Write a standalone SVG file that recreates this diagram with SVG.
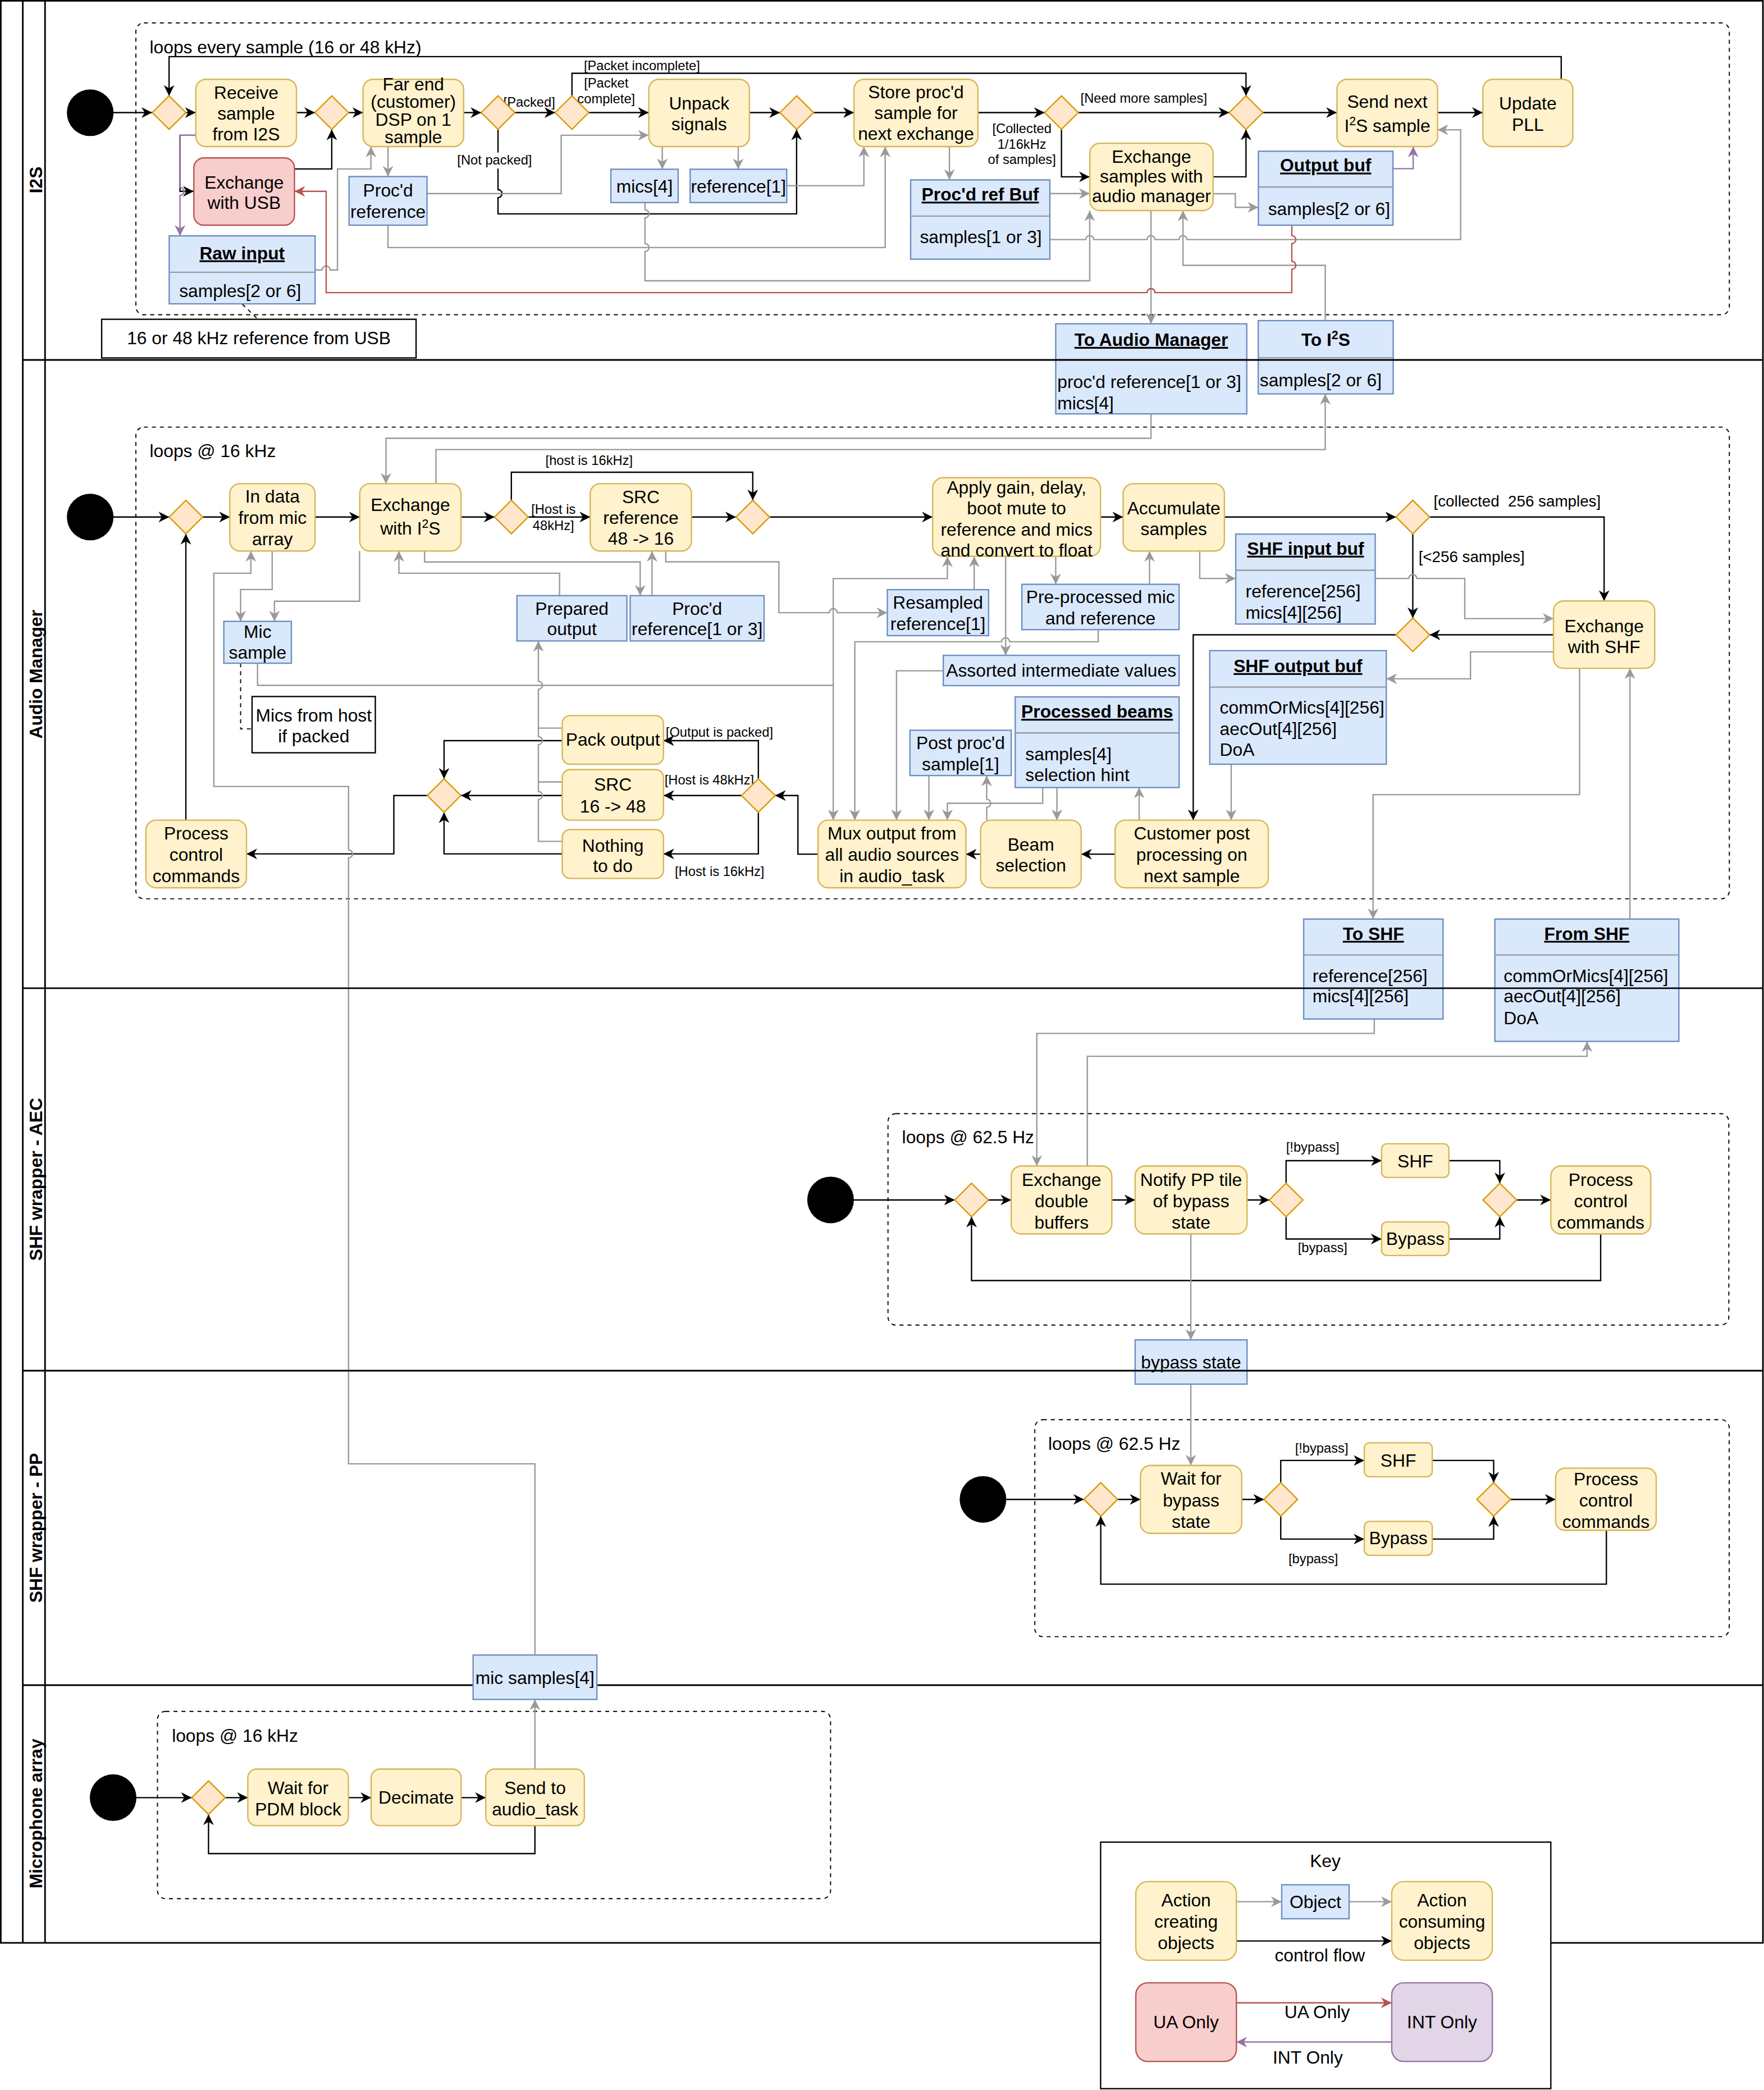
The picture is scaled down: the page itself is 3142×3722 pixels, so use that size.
<svg xmlns="http://www.w3.org/2000/svg" width="3142" height="3722" viewBox="0 0 3142 3722">
<defs>
<style>
text{font-family:'Liberation Sans',Arial,Helvetica,sans-serif;font-size:13.4px;fill:#000}
.c{text-anchor:middle}
.ul{font-weight:bold;text-decoration:underline}
.bo{font-weight:bold}
.l10{font-size:10px}
.l11{font-size:11.7px}
.lane{font-weight:bold;font-size:13.4px;text-anchor:middle}
.act{fill:#fff2cc;stroke:#d6b656;stroke-width:1}
.ua{fill:#f8cecc;stroke:#b85450;stroke-width:1}
.int{fill:#e1d5e7;stroke:#9673a6;stroke-width:1}
.obj{fill:#dae8fc;stroke:#6c8ebf;stroke-width:1}
.dv{stroke:#9a9a9a;stroke-width:1}
.dec{fill:#ffe6cc;stroke:#d79b00;stroke-width:1}
.note{fill:#fff;stroke:#000;stroke-width:1}
.loop{fill:none;stroke:#000;stroke-width:0.8;stroke-dasharray:3 3}
.pool{fill:none;stroke:#000;stroke-width:1.2}
.k{fill:none;stroke:#000;stroke-width:1;marker-end:url(#mk)}
.g{fill:none;stroke:#999;stroke-width:1;marker-end:url(#mg)}
.r{fill:none;stroke:#b85450;stroke-width:1;marker-end:url(#mr)}
.p{fill:none;stroke:#9673a6;stroke-width:1;marker-end:url(#mp)}
.gl{fill:none;stroke:#999;stroke-width:1}
.dash{fill:none;stroke:#000;stroke-width:0.8;stroke-dasharray:3 3}
</style>
<marker id="mk" viewBox="0 0 10 10" refX="10" refY="5" markerWidth="8" markerHeight="8" markerUnits="userSpaceOnUse" orient="auto"><path d="M0,0L10,5L0,10L3,5z" fill="#000"/></marker>
<marker id="mg" viewBox="0 0 10 10" refX="10" refY="5" markerWidth="8" markerHeight="8" markerUnits="userSpaceOnUse" orient="auto"><path d="M0,0L10,5L0,10L3,5z" fill="#999"/></marker>
<marker id="mr" viewBox="0 0 10 10" refX="10" refY="5" markerWidth="8" markerHeight="8" markerUnits="userSpaceOnUse" orient="auto"><path d="M0,0L10,5L0,10L3,5z" fill="#b85450"/></marker>
<marker id="mp" viewBox="0 0 10 10" refX="10" refY="5" markerWidth="8" markerHeight="8" markerUnits="userSpaceOnUse" orient="auto"><path d="M0,0L10,5L0,10L3,5z" fill="#9673a6"/></marker>
</defs>
<rect width="3142" height="3722" fill="#fff"/>
<g transform="scale(2.3731)">

<g id="pool">
<rect class="pool" x="0.6" y="0.6" width="1322.6" height="1457.4"/>
<line class="pool" x1="17.1" y1="0" x2="17.1" y2="1458"/>
<line class="pool" x1="33.8" y1="0" x2="33.8" y2="1458"/>
<line class="pool" x1="17.1" y1="1264.6" x2="1323.2" y2="1264.6"/>
<text class="lane" transform="rotate(-90 31.5 135)" x="31.5" y="135">I2S</text>
<text class="lane" transform="rotate(-90 31.5 506)" x="31.5" y="506">Audio Manager</text>
<text class="lane" transform="rotate(-90 31.5 885)" x="31.5" y="885">SHF wrapper - AEC</text>
<text class="lane" transform="rotate(-90 31.5 1146.6)" x="31.5" y="1146.6">SHF wrapper - PP</text>
<text class="lane" transform="rotate(-90 31.5 1361)" x="31.5" y="1361">Microphone array</text>
</g>

<g id="loops">
<rect class="loop" x="102" y="17.2" width="1196" height="219" rx="6"/>
<text x="112.3" y="40">loops every sample (16 or 48 kHz)</text>
<rect class="loop" x="102" y="320.5" width="1196" height="354" rx="6"/>
<text x="112.3" y="343">loops @ 16 kHz</text>
<rect class="loop" x="666.5" y="835.7" width="631.1" height="158.7" rx="6"/>
<text x="677" y="857.8">loops @ 62.5 Hz</text>
<rect class="loop" x="776.7" y="1065.4" width="521.2" height="162.8" rx="6"/>
<text x="786.7" y="1088">loops @ 62.5 Hz</text>
<rect class="loop" x="118.2" y="1284.3" width="505.2" height="140.5" rx="6"/>
<text x="129" y="1307.3">loops @ 16 kHz</text>
</g>

<g id="key-frame">
<rect class="note" x="826.1" y="1382.4" width="337.9" height="185"/>
<text class="c" x="994.7" y="1401">Key</text>
</g>

<g id="connectors">
<!-- I2S control -->
<path class="k" d="M85.1,84.5H114.2"/>
<path class="k" d="M139.5,84.5H146.9"/>
<path class="k" d="M222.6,84.5H236.4"/>
<path class="k" d="M261.6,84.5H272.5"/>
<path class="k" d="M348.1,84.5H361.2"/>
<path class="k" d="M386.4,84.5H416.7"/>
<path class="k" d="M373.8,97.1V142.3A3,3 0 0 1 373.8,148.3V160.5H597.9V97.2"/>
<path class="k" d="M441.9,84.5H486.9"/>
<path class="k" d="M429.3,71.9V55H935.2V71.9"/>
<path class="k" d="M562.5,84.5H585.4"/>
<path class="k" d="M610.6,84.5H640.9"/>
<path class="k" d="M734,84.5H784.1"/>
<path class="k" d="M809.3,84.5H922.6"/>
<path class="k" d="M796.7,97.1V132.7H817.9"/>
<path class="k" d="M910.5,132.7H935.2V97.2"/>
<path class="k" d="M947.8,84.5H1003.4"/>
<path class="k" d="M1079,84.5H1112.9"/>
<path class="k" d="M1171.8,59.5V42.5H126.9V71.9"/>
<path class="k" d="M221,126.8H249V97.2"/>
<path class="k" d="M146.9,101.5H135.1V143.6H145.4"/>
<!-- I2S objects -->
<path class="g" d="M291.2,110V132.5"/>
<path class="g" d="M236.5,202.6H241.8A3,3 0 0 1 247.8,202.6H253.3V126.8H278.4V110"/>
<path class="g" d="M320.5,145.3H421.2V101.5H486.9"/>
<path class="g" d="M291.2,169V185.8H664.4V110"/>
<path class="g" d="M497.1,110V127"/>
<path class="g" d="M554.1,110V127"/>
<path class="g" d="M590.5,139.3H648.4V110"/>
<path class="g" d="M484.1,152V157.5A3,3 0 0 1 484.1,163.5V182.8A3,3 0 0 1 484.1,188.8V210.7H817.9V158"/>
<path class="g" d="M712.6,110V135"/>
<path class="g" d="M788,145.3H817.9"/>
<path class="g" d="M788,179.8H814.9A3,3 0 0 1 820.9,179.8H860.9A3,3 0 0 1 866.9,179.8H884.9A3,3 0 0 1 890.9,179.8H1096.3V97.4H1079"/>
<path class="g" d="M863.9,158V243"/>
<path class="g" d="M910.5,145.4H927.2V155.6H944.5"/>
<path class="g" d="M994.7,240.6V199.1H887.9V158"/>
<path class="p" d="M1045.5,126.6H1060.7V110"/>
<path class="p" d="M146.9,101.5H135.1V140.6A3,3 0 0 1 135.1,146.6V177"/>
<path class="r" d="M969.6,169V176.8A3,3 0 0 1 969.6,182.8V196.1A3,3 0 0 1 969.6,202.1V219.6H866.9A3,3 0 0 0 860.9,219.6H244.8V143.6H221"/>
<path class="dash" d="M181.8,228.2L193.6,239.6"/>
<text class="l10" x="377.8" y="80">[Packed]</text>
<text class="l10 c" x="455" y="65.9">[Packet</text>
<text class="l10 c" x="455" y="77.7">complete]</text>
<text class="l10" x="438.2" y="52.5">[Packet incomplete]</text>
<rect x="343" y="114.5" width="56.5" height="12" fill="#fff"/>
<text class="l10 c" x="371.2" y="123.5">[Not packed]</text>
<text class="l10" x="811" y="77">[Need more samples]</text>
<text class="l10 c" x="767" y="99.8">[Collected</text>
<text class="l10 c" x="767" y="111.5">1/16kHz</text>
<text class="l10 c" x="767" y="123.1">of samples]</text>

<!-- Audio manager control -->
<path class="k" d="M85.1,388H127"/>
<path class="k" d="M152.1,388H172.5"/>
<path class="k" d="M236.5,388H270"/>
<path class="k" d="M346,388H371.2"/>
<path class="k" d="M396.4,388H443"/>
<path class="k" d="M383.8,375.4V354.4H565V375.4"/>
<path class="k" d="M519,388H552.4"/>
<path class="k" d="M577.6,388H700"/>
<path class="k" d="M826,388H843"/>
<path class="k" d="M919,388H1047.8"/>
<path class="k" d="M1073,388H1204V451"/>
<path class="k" d="M1060.4,400.6V463.8"/>
<path class="k" d="M1166,476.4H1073"/>
<path class="k" d="M1047.8,476.4H895.6V615.5"/>
<path class="k" d="M837,641H811.5"/>
<path class="k" d="M736,641H725"/>
<path class="k" d="M614,641H598.9V597H581.8"/>
<path class="k" d="M569.2,584.4V555.8H498"/>
<path class="k" d="M556.6,597H498"/>
<path class="k" d="M569.2,609.6V640.8H498"/>
<path class="k" d="M422,555.8H333.3V584.4"/>
<path class="k" d="M422,597H345.9"/>
<path class="k" d="M422,640.8H333.3V609.6"/>
<path class="k" d="M320.7,597H295.6V640.8H185"/>
<path class="k" d="M139.5,615.5V400.6"/>
<!-- Audio manager objects -->
<path class="g" d="M863.9,310.6V328.9H289.7V363"/>
<path class="g" d="M327.2,363V337.4H994.7V295.6"/>
<path class="g" d="M318.7,413.5V421.7H480.5V447"/>
<path class="g" d="M489.4,447V413.5"/>
<path class="g" d="M499.7,413.5V421.6H584.6V459.8H622.4A3,3 0 0 1 628.4,459.8H666"/>
<path class="g" d="M420,447V430.2H299.4V413.5"/>
<path class="g" d="M204.3,413.5V442.4H180.6V466.3"/>
<path class="g" d="M269.9,413.5V451.2H206V466.3"/>
<path class="g" d="M401.5,1242V1098.5H261.6V643.8A3,3 0 0 0 261.6,637.8V590.2H160.5V430.2H188.3V413.5"/>
<path class="g" d="M193.3,497.7V514.3H625.4V434.2H711.1V417.6"/>
<path class="g" d="M625.4,514.3V615.5"/>
<path class="g" d="M731.2,442.5V417.6"/>
<path class="g" d="M792.4,417.6V438.5"/>
<path class="g" d="M862.8,438.5V413.5"/>
<path class="g" d="M900.5,413.5V434.1H927.5"/>
<path class="g" d="M1032.2,434.1H1057.4A3,3 0 0 1 1063.4,434.1H1099.4V464.2H1166"/>
<path class="g" d="M1166,489.2H1103.7V509.4H1040.5"/>
<path class="g" d="M924.1,573.5V615.5"/>
<path class="g" d="M1185.6,501.5V596.3H1030.6V689.7"/>
<path class="g" d="M1223.4,689.7V501.5"/>
<path class="g" d="M855,615.5V591"/>
<path class="g" d="M793.3,591V615.5"/>
<path class="g" d="M782.6,591V602.8H711.1V615.5"/>
<path class="g" d="M740.6,615.5V605.8A3,3 0 0 0 740.6,599.8V582"/>
<path class="g" d="M697.2,582V615.5"/>
<path class="g" d="M824.3,472.5V481.6H757.8A3,3 0 0 0 751.8,481.6H641.6V615.5"/>
<path class="g" d="M754.8,417.6V491.8"/>
<path class="g" d="M708,503.4H672.9V615.5"/>
<path class="g" d="M422,631.4H404.1V600A3,3 0 0 0 404.1,594V558.8A3,3 0 0 0 404.1,552.8V517.3A3,3 0 0 0 404.1,511.3V481"/>
<path class="gl" d="M422,586.8H404.1M422,546.4H404.1"/>
<path class="dash" d="M180.6,497.7V547H189.2"/>
<text class="l10 c" x="415.4" y="385.4">[Host is</text>
<text class="l10 c" x="415.4" y="397.6">48kHz]</text>
<text class="l10" x="409.4" y="349">[host is 16kHz]</text>
<text class="l11" x="1076" y="380">[collected&#160; 256 samples]</text>
<text class="l11" x="1064.7" y="421.9">[&lt;256 samples]</text>
<text class="l10" x="499.7" y="552.7">[Output is packed]</text>
<text class="l10" x="498.8" y="588.5">[Host is 48kHz]</text>
<text class="l10" x="506.5" y="657.3">[Host is 16kHz]</text>

<!-- AEC -->
<path class="k" d="M640.9,900.5H716.6"/>
<path class="k" d="M741.8,900.5H759"/>
<path class="k" d="M834.5,900.5H852"/>
<path class="k" d="M936,900.5H952.7"/>
<path class="k" d="M965.3,887.9V871H1037"/>
<path class="k" d="M965.3,913.1V929.8H1037"/>
<path class="k" d="M1087.5,871H1125.7V887.9"/>
<path class="k" d="M1087.5,929.8H1125.7V913.1"/>
<path class="k" d="M1138.3,900.5H1164"/>
<path class="k" d="M1201.4,926V961H729.2V913.1"/>
<path class="g" d="M1031.5,764.7V775.5H778.2V875"/>
<path class="g" d="M816.1,875V792.7H1191.2V781.5"/>
<path class="g" d="M893.8,926V1005.5"/>
<text class="l10" x="965.3" y="864.3">[!bypass]</text>
<text class="l10" x="974.1" y="939.5">[bypass]</text>

<!-- PP -->
<path class="k" d="M755.3,1125.2H813.6"/>
<path class="k" d="M838.8,1125.2H856"/>
<path class="k" d="M932,1125.2H948.7"/>
<path class="k" d="M961.3,1112.6V1096H1024"/>
<path class="k" d="M961.3,1137.8V1155H1024"/>
<path class="k" d="M1075,1096H1121.1V1112.6"/>
<path class="k" d="M1075,1155H1121.1V1137.8"/>
<path class="k" d="M1133.7,1125.2H1167.6"/>
<path class="k" d="M1205.7,1148.4V1188.8H826.2V1137.8"/>
<path class="g" d="M893.8,1038.7V1099.7"/>
<text class="l10" x="972" y="1090.2">[!bypass]</text>
<text class="l10" x="967.1" y="1173">[bypass]</text>

<!-- Mic -->
<path class="k" d="M102.4,1349H143.9"/>
<path class="k" d="M169.1,1349H186"/>
<path class="k" d="M261.5,1349H278.6"/>
<path class="k" d="M346.1,1349H364.6"/>
<path class="k" d="M401.5,1370V1391H156.5V1361.6"/>
<path class="g" d="M401.5,1327.6V1275.3"/>

<!-- Key -->
<path class="g" d="M928,1427.1H962"/>
<path class="g" d="M1012.6,1427.1H1044.6"/>
<path class="k" d="M928,1456.6H1044.6"/>
<path class="r" d="M928,1503H1044.6"/>
<path class="p" d="M1044.6,1532.4H928"/>
<text class="c" x="990.6" y="1472">control flow</text>
<text class="c" x="988.6" y="1514.6">UA Only</text>
<text class="c" x="981.6" y="1548.6">INT Only</text>
</g>

<!-- I2S nodes -->
<g id="i2s-start"><circle cx="67.7" cy="84.6" r="17.5"/></g>
<g id="i2s-d1"><polygon class="dec" points="114.3,84.5 126.9,71.9 139.5,84.5 126.9,97.1"/></g>
<g id="i2s-d2"><polygon class="dec" points="236.4,84.5 249,71.9 261.6,84.5 249,97.1"/></g>
<g id="i2s-d3"><polygon class="dec" points="361.2,84.5 373.8,71.9 386.4,84.5 373.8,97.1"/></g>
<g id="i2s-d4"><polygon class="dec" points="416.7,84.5 429.3,71.9 441.9,84.5 429.3,97.1"/></g>
<g id="i2s-d5"><polygon class="dec" points="585.4,84.5 598,71.9 610.6,84.5 598,97.1"/></g>
<g id="i2s-d6"><polygon class="dec" points="784.1,84.5 796.7,71.9 809.3,84.5 796.7,97.1"/></g>
<g id="i2s-d7"><polygon class="dec" points="922.6,84.5 935.2,71.9 947.8,84.5 935.2,97.1"/></g>
<g id="receive"><rect class="act" x="147" y="59.5" width="75.5" height="50.5" rx="7.5"/><text class="c" x="184.75" y="74.3">Receive</text><text class="c" x="184.75" y="89.8">sample</text><text class="c" x="184.75" y="105.3">from I2S</text></g>
<g id="far-end"><rect class="act" x="272.5" y="59.5" width="75.5" height="50.5" rx="7.5"/><g style="font-size:11.6px"><text class="c" x="310.25" y="68">Far end</text><text class="c" x="310.25" y="81.1">(customer)</text><text class="c" x="310.25" y="94.2">DSP on 1</text><text class="c" x="310.25" y="107.3">sample</text></g></g>
<g id="unpack"><rect class="act" x="487" y="59.5" width="75.5" height="50.5" rx="7.5"/><text class="c" x="524.75" y="82.2">Unpack</text><text class="c" x="524.75" y="97.7">signals</text></g>
<g id="store"><rect class="act" x="641" y="59.5" width="93" height="50.5" rx="7.5"/><text class="c" x="687.5" y="73.6">Store proc'd</text><text class="c" x="687.5" y="89.2">sample for</text><text class="c" x="687.5" y="104.8">next exchange</text></g>
<g id="exchange-am"><rect class="act" x="818" y="107.5" width="92.5" height="50.5" rx="7.5"/><g style="font-size:12.8px"><text class="c" x="864.25" y="122.1">Exchange</text><text class="c" x="864.25" y="136.9">samples with</text><text class="c" x="864.25" y="151.7">audio manager</text></g></g>
<g id="send-next"><rect class="act" x="1003.5" y="59.5" width="75.5" height="50.5" rx="7.5"/><text class="c" x="1041.25" y="80.7">Send next</text><text class="c" x="1041.25" y="99">I<tspan dy="-5" style="font-size:9px">2</tspan><tspan dy="5">S sample</tspan></text></g>
<g id="update-pll"><rect class="act" x="1113" y="59.5" width="67.5" height="50.5" rx="7.5"/><text class="c" x="1146.75" y="82.1">Update</text><text class="c" x="1146.75" y="98">PLL</text></g>
<g id="exchange-usb"><rect class="ua" x="145.5" y="118.5" width="75.5" height="50.5" rx="7.5"/><text class="c" x="183.25" y="141.4">Exchange</text><text class="c" x="183.25" y="156.9">with USB</text></g>
<g id="procd-reference"><rect class="obj" x="262" y="132.5" width="58.5" height="36.5"/><text class="c" x="291.25" y="147.6">Proc'd</text><text class="c" x="291.25" y="163.4">reference</text></g>
<g id="mics4"><rect class="obj" x="458.5" y="127" width="50.5" height="25"/><text class="c" x="483.75" y="144.5">mics[4]</text></g>
<g id="reference1"><rect class="obj" x="518" y="127" width="72.5" height="25"/><text class="c" x="554.25" y="144.5">reference[1]</text></g>
<g id="procd-ref-buf"><rect class="obj" x="683.5" y="135" width="104.5" height="59.5"/><line class="dv" x1="683.5" y1="162.2" x2="788" y2="162.2"/><text class="c ul" x="735.75" y="150.5">Proc'd ref Buf</text><text x="690.4" y="182.3">samples[1 or 3]</text></g>
<g id="output-buf"><rect class="obj" x="944.5" y="113.5" width="101" height="55.5"/><line class="dv" x1="944.5" y1="140.3" x2="1045.5" y2="140.3"/><text class="c ul" x="995" y="128.7">Output buf</text><text x="951.8" y="161.4">samples[2 or 6]</text></g>
<g id="raw-input"><rect class="obj" x="127" y="177" width="109.5" height="51"/><line class="dv" x1="127" y1="204.3" x2="236.5" y2="204.3"/><text class="c ul" x="181.75" y="194.5">Raw input</text><text x="134.5" y="223">samples[2 or 6]</text></g>
<g id="usb-note"><rect class="note" x="76.3" y="239.6" width="236" height="29"/><text class="c" x="194.3" y="258.5">16 or 48 kHz reference from USB</text></g>
<g id="to-audio-manager"><rect class="obj" x="792.4" y="243" width="143.4" height="67.6"/><line class="dv" x1="792.4" y1="270" x2="935.8" y2="270"/><text class="c ul" x="864.1" y="259.5">To Audio Manager</text><text x="793.6" y="291">proc'd reference[1 or 3]</text><text x="793.6" y="307">mics[4]</text></g>
<g id="to-i2s"><rect class="obj" x="944.4" y="240.6" width="101.3" height="55"/><line class="dv" x1="944.4" y1="268.5" x2="1045.7" y2="268.5"/><text class="c bo" x="995" y="259.5">To I<tspan dy="-5" style="font-size:9px">2</tspan><tspan dy="5">S</tspan></text><text x="945.5" y="290">samples[2 or 6]</text></g>

<!-- Audio manager nodes -->
<g id="am-start"><circle cx="67.7" cy="388" r="17.5"/></g>
<g id="am-d1"><polygon class="dec" points="127,388 139.5,375.4 152.1,388 139.5,400.6"/></g>
<g id="am-d2"><polygon class="dec" points="371.2,388 383.8,375.4 396.4,388 383.8,400.6"/></g>
<g id="am-d3"><polygon class="dec" points="552.4,388 565,375.4 577.6,388 565,400.6"/></g>
<g id="am-d4"><polygon class="dec" points="1047.8,388 1060.4,375.4 1073,388 1060.4,400.6"/></g>
<g id="am-d5"><polygon class="dec" points="1047.8,476.4 1060.4,463.8 1073,476.4 1060.4,489"/></g>
<g id="am-d6"><polygon class="dec" points="556.6,597 569.2,584.4 581.8,597 569.2,609.6"/></g>
<g id="am-d7"><polygon class="dec" points="320.7,597 333.3,584.4 345.9,597 333.3,609.6"/></g>
<g id="in-data"><rect class="act" x="172.5" y="363" width="64" height="50.5" rx="7.5"/><text class="c" x="204.5" y="377">In data</text><text class="c" x="204.5" y="393">from mic</text><text class="c" x="204.5" y="409">array</text></g>
<g id="exchange-i2s"><rect class="act" x="270" y="363" width="76" height="50.5" rx="7.5"/><text class="c" x="308" y="383.5">Exchange</text><text class="c" x="308" y="401">with I<tspan dy="-5" style="font-size:9px">2</tspan><tspan dy="5">S</tspan></text></g>
<g id="src-ref"><rect class="act" x="443" y="363" width="76" height="50.5" rx="7.5"/><text class="c" x="481" y="377.4">SRC</text><text class="c" x="481" y="393.2">reference</text><text class="c" x="481" y="408.8">48 -&gt; 16</text></g>
<g id="apply-gain"><rect class="act" x="700" y="358.5" width="126" height="59" rx="8"/><text class="c" x="763" y="370.2">Apply gain, delay,</text><text class="c" x="763" y="386.1">boot mute to</text><text class="c" x="763" y="402">reference and mics</text><text class="c" x="763" y="417.6">and convert to float</text></g>
<g id="accumulate"><rect class="act" x="843" y="363" width="76" height="50.5" rx="7.5"/><text class="c" x="881" y="385.8">Accumulate</text><text class="c" x="881" y="401.6">samples</text></g>
<g id="exchange-shf"><rect class="act" x="1166" y="451" width="76" height="50.5" rx="7.5"/><text class="c" x="1204" y="474.6">Exchange</text><text class="c" x="1204" y="490.2">with SHF</text></g>
<g id="pack-output"><rect class="act" x="422" y="537" width="76" height="36.5" rx="6"/><text class="c" x="460" y="559.7">Pack output</text></g>
<g id="src-16-48"><rect class="act" x="422" y="577.5" width="76" height="38" rx="6"/><text class="c" x="460" y="593.4">SRC</text><text class="c" x="460" y="609.6">16 -&gt; 48</text></g>
<g id="nothing"><rect class="act" x="422" y="622.5" width="76" height="36.7" rx="6"/><text class="c" x="460" y="639.1">Nothing</text><text class="c" x="460" y="654.5">to do</text></g>
<g id="mux"><rect class="act" x="614" y="615.5" width="111" height="50.7" rx="7.5"/><text class="c" x="669.5" y="629.9">Mux output from</text><text class="c" x="669.5" y="645.8">all audio sources</text><text class="c" x="669.5" y="661.8">in audio_task</text></g>
<g id="beam-selection"><rect class="act" x="736" y="615.5" width="75.5" height="50.7" rx="7.5"/><text class="c" x="773.75" y="638.4">Beam</text><text class="c" x="773.75" y="654.2">selection</text></g>
<g id="customer-post"><rect class="act" x="837" y="615.5" width="115" height="50.7" rx="7.5"/><text class="c" x="894.5" y="629.9">Customer post</text><text class="c" x="894.5" y="645.8">processing on</text><text class="c" x="894.5" y="661.8">next sample</text></g>
<g id="am-process-control"><rect class="act" x="109.5" y="615.5" width="75.5" height="50.7" rx="7.5"/><text class="c" x="147.25" y="630">Process</text><text class="c" x="147.25" y="645.8">control</text><text class="c" x="147.25" y="661.8">commands</text></g>
<g id="mic-sample"><rect class="obj" x="168" y="466.3" width="50.7" height="31.4"/><text class="c" x="193.35" y="478.9">Mic</text><text class="c" x="193.35" y="494.5">sample</text></g>
<g id="mics-host-note"><rect class="note" x="189.2" y="522.7" width="92.5" height="42.2"/><text class="c" x="235.45" y="541.5">Mics from host</text><text class="c" x="235.45" y="556.9">if packed</text></g>
<g id="prepared-output"><rect class="obj" x="388" y="447" width="82.5" height="34"/><text class="c" x="429.25" y="461.6">Prepared</text><text class="c" x="429.25" y="476.6">output</text></g>
<g id="procd-ref-13"><rect class="obj" x="473" y="447" width="100.5" height="34"/><text class="c" x="523.25" y="461.5">Proc'd</text><text class="c" x="523.25" y="476.5">reference[1 or 3]</text></g>
<g id="resampled"><rect class="obj" x="666" y="442.5" width="76" height="34.5"/><text class="c" x="704" y="456.8">Resampled</text><text class="c" x="704" y="472.8">reference[1]</text></g>
<g id="pre-processed"><rect class="obj" x="767" y="438.5" width="118" height="34"/><text class="c" x="826" y="452.6">Pre-processed mic</text><text class="c" x="826" y="468.4">and reference</text></g>
<g id="assorted"><rect class="obj" x="708" y="491.8" width="177" height="22.7"/><text class="c" x="796.5" y="507.6">Assorted intermediate values</text></g>
<g id="processed-beams"><rect class="obj" x="762" y="523" width="123" height="68"/><line class="dv" x1="762" y1="550" x2="885" y2="550"/><text class="c ul" x="823.5" y="538.6">Processed beams</text><text x="769.6" y="570.5">samples[4]</text><text x="769.6" y="586.3">selection hint</text></g>
<g id="post-procd"><rect class="obj" x="683" y="548" width="76" height="34"/><text class="c" x="721" y="562.2">Post proc'd</text><text class="c" x="721" y="578">sample[1]</text></g>
<g id="shf-input-buf"><rect class="obj" x="927.5" y="400.8" width="104.7" height="67.5"/><line class="dv" x1="927.5" y1="427.9" x2="1032.2" y2="427.9"/><text class="c ul" x="979.9" y="416.2">SHF input buf</text><text x="934.9" y="448.2">reference[256]</text><text x="934.9" y="464.2">mics[4][256]</text></g>
<g id="shf-output-buf"><rect class="obj" x="908" y="488.3" width="132.5" height="85.2"/><line class="dv" x1="908" y1="515.6" x2="1040.5" y2="515.6"/><text class="c ul" x="974.2" y="504.3">SHF output buf</text><text x="915.5" y="535.7">commOrMics[4][256]</text><text x="915.5" y="551.7">aecOut[4][256]</text><text x="915.5" y="567.1">DoA</text></g>
<g id="to-shf"><rect class="obj" x="978.5" y="689.7" width="104.6" height="75"/><line class="dv" x1="978.5" y1="716.6" x2="1083.1" y2="716.6"/><text class="c ul" x="1030.8" y="705.2">To SHF</text><text x="985.1" y="736.8">reference[256]</text><text x="985.1" y="752.1">mics[4][256]</text></g>
<g id="from-shf"><rect class="obj" x="1122" y="689.7" width="138.1" height="91.8"/><line class="dv" x1="1122" y1="716.6" x2="1260.1" y2="716.6"/><text class="c ul" x="1191" y="705.2">From SHF</text><text x="1128.6" y="736.8">commOrMics[4][256]</text><text x="1128.6" y="752.1">aecOut[4][256]</text><text x="1128.6" y="768.6">DoA</text></g>

<!-- AEC nodes -->
<g id="aec-start"><circle cx="623.4" cy="900.5" r="17.5"/></g>
<g id="aec-d1"><polygon class="dec" points="716.6,900.5 729.2,887.9 741.8,900.5 729.2,913.1"/></g>
<g id="aec-d2"><polygon class="dec" points="952.7,900.5 965.3,887.9 977.9,900.5 965.3,913.1"/></g>
<g id="aec-d3"><polygon class="dec" points="1113.1,900.5 1125.7,887.9 1138.3,900.5 1125.7,913.1"/></g>
<g id="exchange-double"><rect class="act" x="759" y="875" width="75.5" height="51" rx="7.5"/><text class="c" x="796.75" y="890.1">Exchange</text><text class="c" x="796.75" y="906">double</text><text class="c" x="796.75" y="921.8">buffers</text></g>
<g id="notify-pp"><rect class="act" x="852" y="875" width="84" height="51" rx="7.5"/><text class="c" x="894" y="890.1">Notify PP tile</text><text class="c" x="894" y="906">of bypass</text><text class="c" x="894" y="921.8">state</text></g>
<g id="aec-shf"><rect class="act" x="1037" y="858.3" width="50.5" height="25.3" rx="4"/><text class="c" x="1062.25" y="876.1">SHF</text></g>
<g id="aec-bypass"><rect class="act" x="1037" y="917" width="50.5" height="25.2" rx="4"/><text class="c" x="1062.25" y="934.2">Bypass</text></g>
<g id="aec-process-control"><rect class="act" x="1164" y="875" width="75" height="51" rx="7.5"/><text class="c" x="1201.5" y="890.1">Process</text><text class="c" x="1201.5" y="906">control</text><text class="c" x="1201.5" y="921.8">commands</text></g>
<g id="bypass-state"><rect class="obj" x="852" y="1005.5" width="84" height="33.2"/><text class="c" x="894" y="1027">bypass state</text></g>

<!-- PP nodes -->
<g id="pp-start"><circle cx="737.8" cy="1125.2" r="17.5"/></g>
<g id="pp-d1"><polygon class="dec" points="813.6,1125.2 826.2,1112.6 838.8,1125.2 826.2,1137.8"/></g>
<g id="pp-d2"><polygon class="dec" points="948.7,1125.2 961.3,1112.6 973.9,1125.2 961.3,1137.8"/></g>
<g id="pp-d3"><polygon class="dec" points="1108.5,1125.2 1121.1,1112.6 1133.7,1125.2 1121.1,1137.8"/></g>
<g id="wait-bypass"><rect class="act" x="856" y="1099.7" width="76" height="51" rx="7.5"/><text class="c" x="894" y="1114.3">Wait for</text><text class="c" x="894" y="1130.5">bypass</text><text class="c" x="894" y="1146.6">state</text></g>
<g id="pp-shf"><rect class="act" x="1024" y="1082.7" width="51" height="25.5" rx="4"/><text class="c" x="1049.5" y="1100.7">SHF</text></g>
<g id="pp-bypass"><rect class="act" x="1024" y="1141.7" width="51" height="25.5" rx="4"/><text class="c" x="1049.5" y="1158.7">Bypass</text></g>
<g id="pp-process-control"><rect class="act" x="1167.6" y="1101.8" width="75.5" height="46.6" rx="7"/><text class="c" x="1205.35" y="1114.6">Process</text><text class="c" x="1205.35" y="1130.5">control</text><text class="c" x="1205.35" y="1146.6">commands</text></g>

<!-- Mic nodes -->
<g id="mic-start"><circle cx="84.9" cy="1349" r="17.5"/></g>
<g id="mic-d1"><polygon class="dec" points="143.9,1349 156.5,1336.4 169.1,1349 156.5,1361.6"/></g>
<g id="wait-pdm"><rect class="act" x="186" y="1327.6" width="75.5" height="42.4" rx="6.5"/><text class="c" x="223.75" y="1346.4">Wait for</text><text class="c" x="223.75" y="1362.4">PDM block</text></g>
<g id="decimate"><rect class="act" x="278.6" y="1327.6" width="67.5" height="42.4" rx="6.5"/><text class="c" x="312.35" y="1353.7">Decimate</text></g>
<g id="send-audio-task"><rect class="act" x="364.6" y="1327.6" width="74" height="42.4" rx="6.5"/><text class="c" x="401.6" y="1346.4">Send to</text><text class="c" x="401.6" y="1362.4">audio_task</text></g>
<g id="mic-samples"><rect class="obj" x="355.1" y="1242" width="92.9" height="33.3"/><text class="c" x="401.5" y="1263.7">mic samples[4]</text></g>

<!-- lane borders drawn over straddling objects -->
<g id="lane-borders">
<line class="pool" x1="17.1" y1="270.1" x2="1323.2" y2="270.1"/>
<line class="pool" x1="17.1" y1="741.6" x2="1323.2" y2="741.6"/>
<line class="pool" x1="17.1" y1="1028.6" x2="1323.2" y2="1028.6"/>
</g>

<!-- Key nodes -->
<g id="key-action-creating"><rect class="act" x="852.5" y="1412" width="75.5" height="59" rx="9"/><text class="c" x="890.25" y="1430.6">Action</text><text class="c" x="890.25" y="1446.7">creating</text><text class="c" x="890.25" y="1462.6">objects</text></g>
<g id="key-object"><rect class="obj" x="962" y="1414.4" width="50.6" height="25.5"/><text class="c" x="987.3" y="1432">Object</text></g>
<g id="key-action-consuming"><rect class="act" x="1044.6" y="1412" width="75.5" height="59" rx="9"/><text class="c" x="1082.35" y="1430.6">Action</text><text class="c" x="1082.35" y="1446.7">consuming</text><text class="c" x="1082.35" y="1462.6">objects</text></g>
<g id="key-ua"><rect class="ua" x="852.5" y="1488" width="75.5" height="59" rx="9"/><text class="c" x="890.25" y="1521.9">UA Only</text></g>
<g id="key-int"><rect class="int" x="1044.6" y="1488" width="75.5" height="59" rx="9"/><text class="c" x="1082.35" y="1521.9">INT Only</text></g>
</g>
</svg>
